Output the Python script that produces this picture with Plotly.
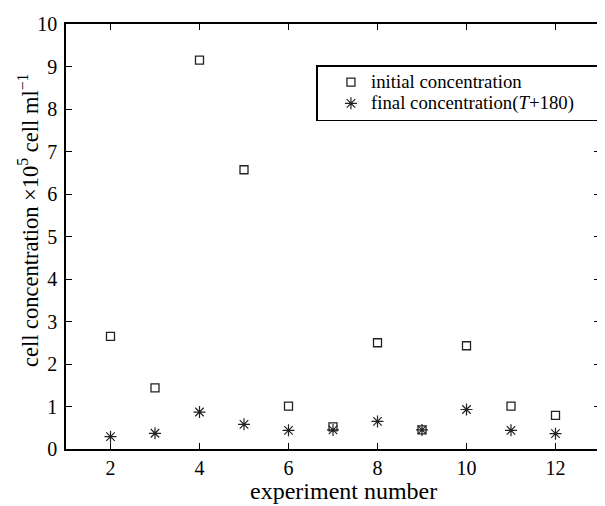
import plotly.graph_objects as go

experiment = [2, 3, 4, 5, 6, 7, 8, 9, 10, 11, 12]
initial_conc = [2.65, 1.44, 9.15, 6.57, 1.01, 0.52, 2.50, 0.45, 2.43, 1.01, 0.79]
final_conc = [0.29, 0.37, 0.87, 0.58, 0.44, 0.45, 0.65, 0.45, 0.93, 0.44, 0.36]

x_ticks = [2, 4, 6, 8, 10, 12]
y_ticks = list(range(0, 11))

FONT = "Liberation Serif"
LEG = '<span style="font-size:18.8px">{}</span>'

fig = go.Figure()
fig.add_trace(go.Scatter(
    x=experiment, y=initial_conc, mode="markers", name=LEG.format("initial concentration"),
    marker=dict(symbol="square-open", size=8, color="#222", line=dict(width=1.3, color="#222")),
))
fig.add_trace(go.Scatter(
    x=experiment, y=final_conc, mode="markers",
    name=LEG.format("final concentration(<i>T</i>+180)&nbsp;&nbsp;&nbsp;&nbsp;"),
    marker=dict(symbol="asterisk-open", size=10, color="#222", line=dict(width=1.2, color="#222")),
))

axis_common = dict(
    showline=True, linecolor="black", linewidth=1.5, mirror="ticks",
    ticks="inside", ticklen=6, tickcolor="black", tickwidth=1,
    showgrid=False, zeroline=False,
    tickfont=dict(family=FONT, size=20, color="black"),
)

# page body has an 8px default margin, so the figure is drawn 8px smaller
fig.update_layout(
    width=597, height=498,
    margin=dict(l=58, r=3, t=16, b=57),
    paper_bgcolor="white", plot_bgcolor="white",
    font=dict(family=FONT, color="black"),
    xaxis=dict(range=[1, 13], tickvals=x_ticks, ticktext=[str(v) for v in x_ticks],
               **axis_common),
    yaxis=dict(range=[0, 10], tickvals=y_ticks, ticktext=[str(v) for v in y_ticks],
               ticklabelstandoff=3, **axis_common),
    legend=dict(x=0.469, y=0.9035, xanchor="left", yanchor="top",
                bordercolor="black", borderwidth=1.5, bgcolor="white",
                font=dict(family=FONT, size=14, color="black"),
                indentation=13,
                tracegroupgap=0, itemsizing="trace"),
    showlegend=True,
)

fig.add_annotation(
    text="cell concentration ×10<sup>5</sup> cell ml<sup>−1</sup>",
    xref="paper", yref="paper", x=-0.071, y=0.5365, xanchor="center", yanchor="middle",
    textangle=-90, showarrow=False, font=dict(family=FONT, size=22.5, color="black"),
)
fig.add_annotation(
    text="experiment number",
    xref="paper", yref="paper", x=0.519, y=-0.099, xanchor="center", yanchor="middle",
    showarrow=False, font=dict(family=FONT, size=24, color="black"),
)

fig.write_html("out.html")
